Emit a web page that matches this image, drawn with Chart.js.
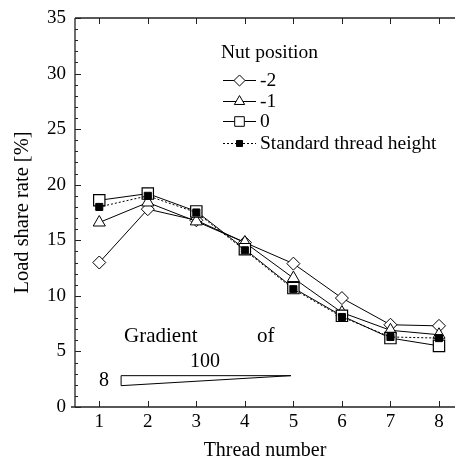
<!DOCTYPE html>
<html>
<head>
<meta charset="utf-8">
<script src="https://cdn.jsdelivr.net/npm/chart.js@4/dist/chart.umd.min.js"></script>
<style>
  html, body { margin: 0; padding: 0; background: #fff; overflow: hidden; }
</style>
</head>
<body>
<canvas id="graficoCarga" width="455" height="463"></canvas>
<script>
// dados
var threads = [1, 2, 3, 4, 5, 6, 7, 8];
var xTicks = [1, 2, 3, 4, 5, 6, 7, 8];
var yTicks = [0, 5, 10, 15, 20, 25, 30, 35];
var nutMinus2 = [13.0, 17.8, 16.8, 14.8, 12.9, 9.8, 7.4, 7.3];
var nutMinus1 = [16.6, 18.4, 16.7, 14.8, 11.6, 8.5, 6.9, 6.5];
var nut0 = [18.6, 19.2, 17.6, 14.2, 10.7, 8.2, 6.2, 5.5];
var standardHeight = [18.0, 19.0, 17.5, 14.1, 10.6, 8.1, 6.3, 6.2];
var seriesNames = ['-2', '-1', '0', 'Standard thread height'];
// cunha "Gradient of 8/100"
var wedgeX = [1.45, 4.95, 1.45, 1.45];
var wedgeY = [2.82, 2.82, 1.92, 2.82];

var fonte = '"Liberation Serif", "DejaVu Serif", serif';

function pontos(vals) {
  return threads.map(function (t, i) { return { x: t, y: vals[i] }; });
}

var eixos = {
  id: 'eixos',
  afterDraw: function (chart) {
    var ctx = chart.ctx;
    var a = chart.chartArea;
    var sx = chart.scales.x, sy = chart.scales.y;
    ctx.save();
    ctx.strokeStyle = '#222';
    ctx.lineWidth = 1.3;
    ctx.beginPath();
    ctx.moveTo(a.left, a.top); ctx.lineTo(a.right, a.top);
    ctx.moveTo(a.left, a.top); ctx.lineTo(a.left, a.bottom);
    ctx.moveTo(a.left - 4, a.bottom); ctx.lineTo(a.right, a.bottom);
    ctx.stroke();
    ctx.lineWidth = 1;
    ctx.beginPath();
    for (var v = 0; v <= 35; v++) {
      var py = Math.round(sy.getPixelForValue(v)) + 0.5;
      var len = (v % 5 === 0) ? 6 : 3;
      ctx.moveTo(a.left, py); ctx.lineTo(a.left + len, py);
    }
    xTicks.forEach(function (t) {
      var px = Math.round(sx.getPixelForValue(t)) + 0.5;
      ctx.moveTo(px, a.bottom); ctx.lineTo(px, a.bottom - 6);
      ctx.moveTo(px, a.top); ctx.lineTo(px, a.top + 6);
    });
    ctx.stroke();

    // textos da cunha
    ctx.fillStyle = '#000';
    ctx.font = '21px ' + fonte;
    ctx.textBaseline = 'alphabetic';
    ctx.textAlign = 'left';
    ctx.fillText('Gradient', 124, 342);
    ctx.fillText('of', 257, 342);
    ctx.font = '20px ' + fonte;
    ctx.fillText('100', 190, 367);
    ctx.fillText('8', 99, 386);

    // legenda
    ctx.font = '19.5px ' + fonte;
    ctx.fillText('Nut position', 221, 58);
    var rows = [80, 101, 121, 143];
    var ds = chart.data.datasets;
    for (var i = 0; i < 4; i++) {
      var d = ds[i];
      var y = rows[i];
      ctx.strokeStyle = '#000';
      ctx.lineWidth = 1;
      ctx.setLineDash(d.borderDash || []);
      ctx.beginPath();
      ctx.moveTo(223, y + 0.5); ctx.lineTo(256, y + 0.5);
      ctx.stroke();
      ctx.setLineDash([]);
      ctx.fillStyle = d.pointBackgroundColor;
      Chart.helpers.drawPoint(ctx, {
        pointStyle: d.pointStyle, radius: d.pointRadius * 0.85,
        rotation: 0, borderWidth: 1
      }, 239.5, y + 0.5);
      ctx.fillStyle = '#000';
      ctx.fillText(seriesNames[i], 260, y + 6);
    }
    ctx.restore();
  }
};

var ctx = document.getElementById('graficoCarga').getContext('2d');
var chart = new Chart(ctx, {
  type: 'scatter',
  data: {
    datasets: [
      {
        label: seriesNames[0],
        data: pontos(nutMinus2),
        showLine: true,
        borderColor: '#000',
        borderWidth: 1,
        pointStyle: 'rectRot',
        pointRadius: 6.5,
        pointBackgroundColor: '#fff',
        pointBorderColor: '#000',
        pointBorderWidth: 1,
        order: 3
      },
      {
        label: seriesNames[1],
        data: pontos(nutMinus1),
        showLine: true,
        borderColor: '#000',
        borderWidth: 1,
        pointStyle: 'triangle',
        pointRadius: 7,
        pointBackgroundColor: '#fff',
        pointBorderColor: '#000',
        pointBorderWidth: 1,
        order: 2
      },
      {
        label: seriesNames[2],
        data: pontos(nut0),
        showLine: true,
        borderColor: '#000',
        borderWidth: 1,
        pointStyle: 'rect',
        pointRadius: 8,
        pointBackgroundColor: '#fff',
        pointBorderColor: '#000',
        pointBorderWidth: 1.2,
        order: 1
      },
      {
        label: seriesNames[3],
        data: pontos(standardHeight),
        showLine: true,
        borderColor: '#000',
        borderWidth: 1,
        borderDash: [2, 2],
        pointStyle: 'rect',
        pointRadius: 5,
        pointBackgroundColor: '#000',
        pointBorderColor: '#000',
        pointBorderWidth: 1,
        order: 0
      },
      {
        label: 'wedge',
        data: wedgeX.map(function (x, i) { return { x: x, y: wedgeY[i] }; }),
        showLine: true,
        borderColor: '#000',
        borderWidth: 1,
        pointRadius: 0,
        fill: false,
        order: 5
      }
    ]
  },
  options: {
    responsive: false,
    animation: false,
    events: [],
    layout: { autoPadding: false, padding: { top: 18, right: 0, left: 0, bottom: 0 } },
    plugins: { legend: { display: false }, tooltip: { enabled: false } },
    scales: {
      x: {
        type: 'linear',
        min: 0.5,
        max: 8.33,
        afterBuildTicks: function (axis) {
          axis.ticks = xTicks.map(function (v) { return { value: v }; });
        },
        grid: { display: false, drawTicks: false },
        border: { display: false },
        ticks: {
          color: '#000',
          font: { family: fonte, size: 19 },
          padding: 4
        },
        title: {
          display: true,
          text: 'Thread number',
          color: '#000',
          font: { family: fonte, size: 20 },
          padding: { top: 5, bottom: 0 }
        },
        afterFit: function (axis) {
          axis.height = 56;
          axis.paddingLeft = 0;
          axis.paddingRight = 0;
        }
      },
      y: {
        min: 0,
        max: 35,
        afterBuildTicks: function (axis) {
          axis.ticks = yTicks.map(function (v) { return { value: v }; });
        },
        grid: { display: false, drawTicks: false },
        border: { display: false },
        ticks: {
          color: '#000',
          font: { family: fonte, size: 19 },
          padding: 9
        },
        title: {
          display: true,
          text: 'Load share rate [%]',
          color: '#000',
          font: { family: fonte, size: 20.5 },
          padding: { top: 10, bottom: 6 }
        },
        afterFit: function (axis) {
          axis.width = 75;
          axis.paddingTop = 0;
          axis.paddingBottom = 0;
        }
      }
    }
  },
  plugins: [eixos]
});
</script>
</body>
</html>
